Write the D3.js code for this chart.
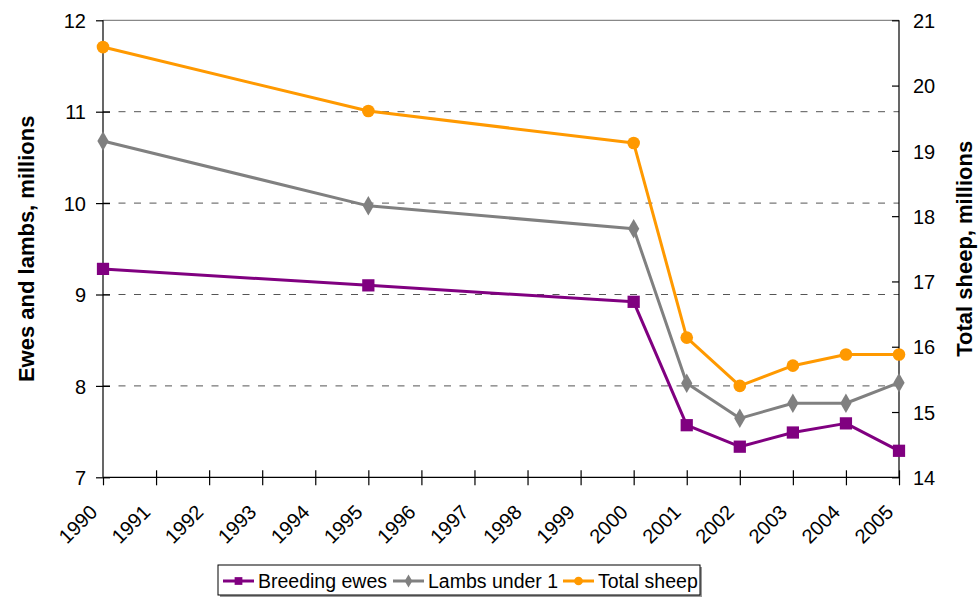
<!DOCTYPE html>
<html>
<head>
<meta charset="utf-8">
<script src="https://cdn.jsdelivr.net/npm/d3@7"></script>
<style>
  html, body { margin: 0; padding: 0; background: #fff; }
  svg { display: block; font-family: Arial, "Liberation Sans", sans-serif; }
</style>
</head>
<body>
<svg id="chart" width="979" height="598"></svg>
<script>
// Sheep numbers, millions
const years = [1990, 1995, 2000, 2001, 2002, 2003, 2004, 2005];
const breedingEwes = [9.28, 9.10, 8.92, 7.57, 7.335, 7.49, 7.59, 7.29];
const lambsUnder1 = [10.68, 9.97, 9.72, 8.03, 7.645, 7.81, 7.81, 8.035];
const totalSheep  = [20.59, 19.61, 19.12, 16.14, 15.40, 15.71, 15.88, 15.88];

const yearTicks = d3.range(1990, 2006);
const leftTicks = [7, 8, 9, 10, 11, 12];
const rightTicks = [14, 15, 16, 17, 18, 19, 20, 21];
const gridValues = [8, 9, 10, 11];

const seriesNames = ["Breeding ewes", "Lambs under 1", "Total sheep"];
const seriesColors = ["#800080", "#808080", "#FF9900"];
const seriesSymbols = [d3.symbolSquare, d3.symbolDiamond, d3.symbolCircle];

const svg = d3.select("#chart");
const plotLeft = 103, plotRight = 899, plotTop = 20.3, plotBottom = 477.3;
const tickFont = 20;

const x = d3.scaleLinear().domain([1990, 2005]).range([plotLeft, plotRight]);
const yL = d3.scaleLinear().domain([7, 12]).range([plotBottom, plotTop]);
const yR = d3.scaleLinear().domain([14, 21]).range([plotBottom, plotTop]);

// Dashed gridlines
svg.append("g").selectAll("line").data(gridValues).join("line")
  .attr("x1", plotLeft).attr("x2", plotRight)
  .attr("y1", d => yL(d)).attr("y2", d => yL(d))
  .attr("stroke", "#555").attr("stroke-width", 1)
  .attr("stroke-dasharray", "7,8.5");

// Top border of the plot area
svg.append("line")
  .attr("x1", plotLeft).attr("x2", plotRight).attr("y1", plotTop).attr("y2", plotTop)
  .attr("stroke", "#888").attr("stroke-width", 1.2);

// Left axis
const gL = svg.append("g").attr("transform", `translate(${plotLeft},0)`)
  .call(d3.axisLeft(yL).tickValues(leftTicks).tickSize(7).tickPadding(10).tickFormat(d3.format("d")));
gL.selectAll(".tick line").attr("x2", -7).attr("x1", d => d === 12 ? 0 : 7);
// Right axis
const gR = svg.append("g").attr("transform", `translate(${plotRight},0)`)
  .call(d3.axisRight(yR).tickValues(rightTicks).tickSize(7).tickPadding(7).tickFormat(d3.format("d")));
gR.selectAll(".tick line").attr("x1", -7).attr("x2", 0);
// Bottom axis
const gB = svg.append("g").attr("transform", `translate(0,${plotBottom})`)
  .call(d3.axisBottom(x).tickValues(yearTicks).tickSize(8).tickFormat(d3.format("d")));
gB.selectAll(".tick line").attr("y1", d => d === 1990 ? 0 : -7);
gB.selectAll(".tick text")
  .attr("text-anchor", "end")
  .attr("transform", "translate(-5,36) rotate(-45)")
  .attr("x", 0).attr("y", 0).attr("dy", 0);

[gL, gR, gB].forEach(g => {
  g.select(".domain").attr("stroke", "#000").attr("stroke-width", 1.2);
  g.selectAll(".tick line").attr("stroke", "#000").attr("stroke-width", 1.2);
  g.selectAll(".tick text").attr("font-size", tickFont).attr("fill", "#000")
    .attr("font-family", "Arial, 'Liberation Sans', sans-serif");
});
gL.selectAll(".tick text").attr("dy", "0.36em");
gR.selectAll(".tick text").attr("dy", "0.36em");
gL.select(".domain").attr("d", `M0,${plotBottom}V${plotTop}`);
gR.select(".domain").attr("d", `M0,${plotBottom}V${plotTop}`);
gB.select(".domain").attr("d", `M${plotLeft},0H${plotRight}`);

// Axis titles
svg.append("text")
  .attr("transform", `translate(34,${(plotTop + plotBottom) / 2}) rotate(-90)`)
  .attr("text-anchor", "middle").attr("font-size", 22).attr("font-weight", "bold")
  .text("Ewes and lambs, millions");
svg.append("text")
  .attr("transform", `translate(972,${(plotTop + plotBottom) / 2}) rotate(-90)`)
  .attr("text-anchor", "middle").attr("font-size", 22).attr("font-weight", "bold")
  .text("Total sheep, millions");

// Series
const series = [
  { values: breedingEwes, scale: yL },
  { values: lambsUnder1, scale: yL },
  { values: totalSheep, scale: yR }
];
const markerSizes = [150, 110, 125];

series.forEach((s, i) => {
  const pts = years.map((yr, k) => [x(yr), s.scale(s.values[k])]);
  svg.append("path")
    .attr("d", d3.line()(pts))
    .attr("fill", "none").attr("stroke", seriesColors[i])
    .attr("stroke-width", 3).attr("stroke-linejoin", "round");
  svg.append("g").selectAll("path").data(pts).join("path")
    .attr("transform", d => `translate(${d[0]},${d[1]})`)
    .attr("d", d3.symbol().type(seriesSymbols[i]).size(markerSizes[i]))
    .attr("fill", seriesColors[i]);
});

// Legend
const lg = svg.append("g");
lg.append("rect").attr("x", 220).attr("y", 567).attr("width", 482).attr("height", 30).attr("fill", "#999");
lg.append("rect").attr("x", 218).attr("y", 565).attr("width", 482).attr("height", 30)
  .attr("fill", "#fff").attr("stroke", "#000").attr("stroke-width", 1);
const legendX = [223, 393, 563];
seriesNames.forEach((name, i) => {
  const cy = 581;
  const x0 = legendX[i];
  lg.append("line").attr("x1", x0).attr("x2", x0 + 31).attr("y1", cy).attr("y2", cy)
    .attr("stroke", seriesColors[i]).attr("stroke-width", 3);
  lg.append("path").attr("transform", `translate(${x0 + 15.5},${cy})`)
    .attr("d", d3.symbol().type(seriesSymbols[i]).size(i === 1 ? 50 : 60))
    .attr("fill", seriesColors[i]);
  lg.append("text").attr("x", x0 + 35).attr("y", cy).attr("dy", "0.36em")
    .attr("font-size", 19.5).attr("fill", "#000").text(name);
});
</script>
</body>
</html>
